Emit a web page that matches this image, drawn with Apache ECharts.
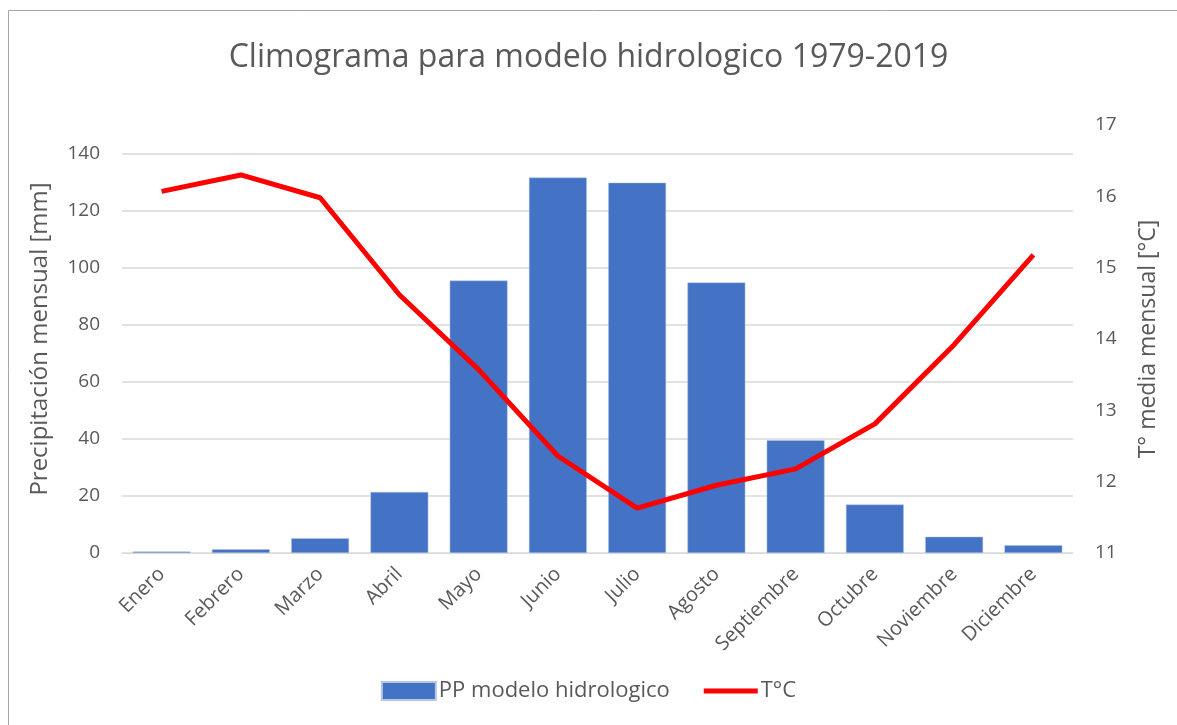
<!DOCTYPE html>
<html>
<head>
<meta charset="utf-8">
<script src="https://cdn.jsdelivr.net/npm/echarts@6/dist/echarts.min.js"></script>
<style>
  html, body { margin: 0; padding: 0; background: #fff; }
  #main { width: 1177px; height: 725px; }
</style>
</head>
<body>
<div id="main"></div>
<script>
// datos del climograma
var meses = ["Enero", "Febrero", "Marzo", "Abril", "Mayo", "Junio", "Julio", "Agosto", "Septiembre", "Octubre", "Noviembre", "Diciembre"];
var precipitacion = [0.5, 1.3, 5.2, 21.4, 95.5, 131.6, 129.8, 94.8, 39.5, 17.0, 5.7, 2.7];
var temperatura = [16.07, 16.30, 15.98, 14.62, 13.57, 12.36, 11.63, 11.95, 12.18, 12.81, 13.92, 15.18];

var gris = "#595959";
var fuente = "'Open Sans', 'Noto Sans', sans-serif";

var myChart = echarts.init(document.getElementById("main"));
var option = {
  backgroundColor: "#fff",
  textStyle: { fontFamily: fuente },
  title: {
    text: "Climograma para modelo hidrologico 1979-2019",
    left: "center",
    top: 37,
    textStyle: { fontSize: 32, fontWeight: "normal", color: gris, fontFamily: fuente }
  },
  graphic: [{
    type: "rect",
    shape: { x: 8.5, y: 10.5, width: 1200, height: 800 },
    style: { fill: "none", stroke: "#a6a6a6", lineWidth: 1 },
    silent: true
  }],
  legend: {
    bottom: 18,
    left: "center",
    itemGap: 34,
    itemWidth: 54,
    itemHeight: 18,
    textStyle: { fontSize: 22, color: gris, fontFamily: fuente, padding: [0, 0, 0, -2] },
    data: [
      { name: "PP modelo hidrologico", icon: "rect" },
      { name: "T°C", icon: "path://M0,6.5h54v5h-54z M0,0h0.01v0.01h-0.01z M53.99,17.99h0.01v0.01h-0.01z" }
    ]
  },
  grid: { left: 122, right: 104, top: 125, bottom: 172, containLabel: false },
  xAxis: {
    type: "category",
    data: meses,
    axisLine: { lineStyle: { color: "#d9d9d9", width: 1 } },
    axisTick: { show: false },
    axisLabel: { rotate: 45, fontSize: 20, color: gris, margin: 18, interval: 0, fontFamily: fuente }
  },
  yAxis: [
    {
      type: "value",
      min: 0,
      max: 150,
      interval: 20,
      name: "Precipitación mensual [mm]",
      nameLocation: "middle",
      nameGap: 70,
      nameTextStyle: { fontSize: 24, color: gris, fontFamily: fuente },
      axisLine: { show: false },
      axisTick: { show: false },
      axisLabel: { fontSize: 19, color: gris, margin: 22, showMaxLabel: false, fontFamily: fuente },
      splitLine: { show: true, showMaxLine: false, lineStyle: { color: "#d9d9d9", width: 1.5 } }
    },
    {
      type: "value",
      min: 11,
      max: 17,
      interval: 1,
      name: "T° media mensual [°C]",
      nameLocation: "middle",
      nameGap: 64,
      nameRotate: 90,
      nameTextStyle: { fontSize: 23, color: gris, fontFamily: fuente },
      axisLine: { show: false },
      axisTick: { show: false },
      axisLabel: { fontSize: 19, color: gris, margin: 22, fontFamily: fuente },
      splitLine: { show: false }
    }
  ],
  series: [
    {
      name: "PP modelo hidrologico",
      type: "bar",
      yAxisIndex: 0,
      data: precipitacion,
      barCategoryGap: "27%",
      itemStyle: { color: "#4472C4", borderColor: "#b4c7e7", borderWidth: 0.5 }
    },
    {
      name: "T°C",
      type: "line",
      yAxisIndex: 1,
      data: temperatura,
      symbol: "none",
      lineStyle: { color: "#FF0000", width: 5 },
      itemStyle: { color: "#FF0000" }
    }
  ]
};
myChart.setOption(option);
</script>
</body>
</html>
